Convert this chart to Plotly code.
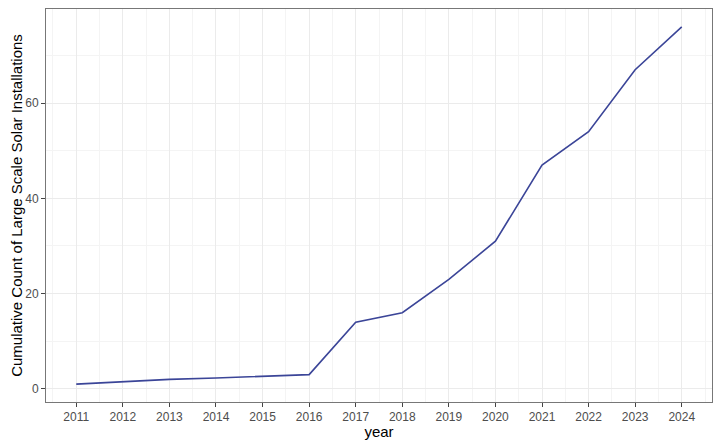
import plotly.graph_objects as go

# Cumulative count of large scale solar installations by year
years = [2011, 2012, 2013, 2014, 2015, 2016, 2017, 2018, 2019, 2020, 2021, 2022, 2023, 2024]
counts = [1, 1.5, 2, 2.3, 2.6, 3, 14, 16, 23, 31, 47, 54, 67, 76]

y_ticks = [0, 20, 40, 60]

grid = '#EBEBEB'
border = '#777777'
tick_color = '#444444'
tick_font = dict(family='Liberation Sans, Arial, sans-serif', size=12, color='#4D4D4D')
title_font = dict(family='Liberation Sans, Arial, sans-serif', size=15, color='black')

fig = go.Figure()
fig.add_trace(go.Scatter(x=years, y=counts, mode='lines',
                         line=dict(color='#3B4598', width=1.6),
                         showlegend=False))

pad_x = 0.05 * (max(years) - min(years))
pad_y = 0.05 * (max(counts) - min(counts))

# the page body adds an 8px margin, so the figure is a bit smaller than the window
fig.update_layout(
    width=706, height=432,
    margin=dict(l=38, r=2, t=1, b=38),
    paper_bgcolor='white', plot_bgcolor='white',
    xaxis=dict(
        range=[min(years) - pad_x, max(years) + pad_x],
        tickvals=years, ticktext=[str(y) for y in years],
        showgrid=True, gridcolor=grid, gridwidth=1,
        minor=dict(dtick=0.5, tick0=2010.5, showgrid=True, gridcolor='#F4F4F4', gridwidth=0.6),
        ticks='outside', ticklen=4, tickcolor=tick_color,
        showline=True, linecolor=border, linewidth=1, mirror=True,
        zeroline=False, tickfont=tick_font, automargin=False,
        title=dict(text='year', font=title_font, standoff=0),
    ),
    yaxis=dict(
        range=[min(counts) - pad_y, max(counts) + pad_y],
        tickvals=y_ticks,
        showgrid=True, gridcolor=grid, gridwidth=1,
        minor=dict(dtick=10, tick0=10, showgrid=True, gridcolor='#F4F4F4', gridwidth=0.6),
        ticks='outside', ticklen=4, tickcolor=tick_color,
        showline=True, linecolor=border, linewidth=1, mirror=True,
        zeroline=False, tickfont=tick_font, automargin=False,
        title=dict(text='Cumulative Count of Large Scale Solar Installations',
                   font=title_font, standoff=4),
    ),
)

fig.write_html("out.html")
